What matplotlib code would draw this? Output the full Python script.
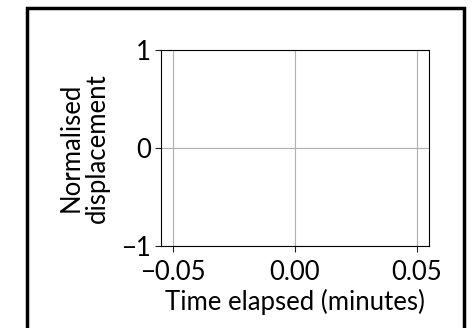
import matplotlib
matplotlib.use("Agg")
import matplotlib.pyplot as plt
from matplotlib.patches import Rectangle

# Data (the reference chart shows no traces)
time_elapsed = []
displacement = []
x_ticks = [-0.05, 0.00, 0.05]
y_ticks = [-1, 0, 1]

plt.rcParams["font.family"] = ["Lato", "DejaVu Sans"]
plt.rcParams["font.size"] = 18.5

fig = plt.figure(figsize=(4.72, 3.28), dpi=100)
ax = fig.add_axes([161 / 472, 1 - 246 / 328, 268 / 472, 196.5 / 328])

ax.plot(time_elapsed, displacement, color="tab:blue")
ax.set_xlim(-0.055, 0.055)
ax.set_ylim(-1, 1)
ax.set_xticks(x_ticks)
ax.set_xticklabels([f"{t:.2f}".replace("-", "\u2212") for t in x_ticks])
ax.set_yticks(y_ticks)
ax.set_yticklabels([str(t).replace("-", "\u2212") for t in y_ticks])
ax.tick_params(length=4, color="#222222")
ax.tick_params(axis="x", pad=6)
ax.tick_params(axis="y", pad=3)
ax.grid(True, color="#b0b0b0", linewidth=0.8)
ax.set_xlabel("Time elapsed (minutes)", labelpad=3)
ax.set_ylabel("Normalised\ndisplacement", labelpad=8, linespacing=1.1)

# outer frame
fig.patches.append(Rectangle((26.5 / 472, -0.05), 437 / 472, 1 - 8.5 / 328 + 0.05,
                             transform=fig.transFigure, fill=False,
                             edgecolor="black", linewidth=2.5))

fig.savefig("out.png", dpi=100)
